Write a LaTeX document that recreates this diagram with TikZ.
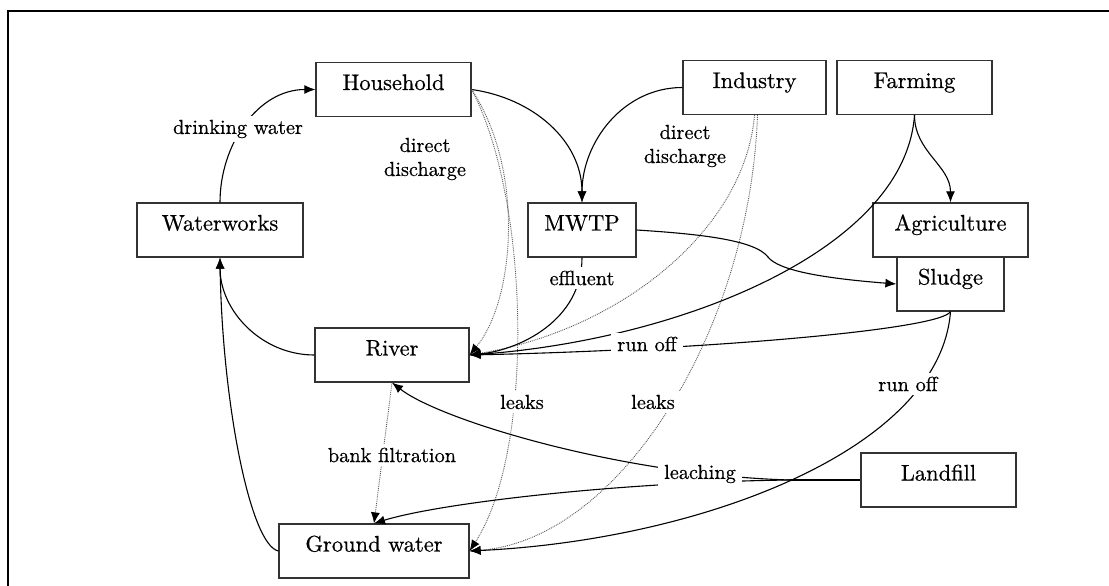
\documentclass[tikz,border=0pt]{standalone}
\usepackage{fontspec}
\setmainfont{lmroman10-regular.otf}[FakeBold=0.6]
\usetikzlibrary{arrows.meta}
\begin{document}
\begin{tikzpicture}[x=1pt,y=1pt,
  box/.style={draw=black!80, line width=1.2pt, minimum height=54pt, inner sep=0pt, text height=15pt, text depth=14pt, font=\fontsize{22.5}{26}\selectfont},
  lbl/.style={fill=white, inner xsep=6pt, inner ysep=4pt, font=\fontsize{20.3}{24}\selectfont},
  txt/.style={align=center, font=\fontsize{20.3}{24}\selectfont},
  arr/.style={line width=1.1pt, -{Latex[length=11pt,width=9pt]}},
  dot/.style={densely dotted, line width=0.9pt, draw=black!65, -{Latex[length=11pt,width=9pt,black]}},
]
\useasboundingbox (0,0) rectangle (1109,-586);
\fill[white] (0,0) rectangle (1109,-586);
\draw[line width=2.5pt] (8,-586) -- (8,-11) -- (1109,-11);

% boxes
\node[box, minimum width=155pt] (hh) at (393.5,-89.5) {Household};
\node[box, minimum width=166pt] (ww) at (220,-230) {Waterworks};
\node[box, minimum width=143pt] (ind) at (754.5,-87.5) {Industry};
\node[box, minimum width=155pt] (farm) at (914.5,-87.5) {Farming};
\node[box, minimum width=108pt] (mw) at (582,-230) {MWTP};
\node[box, minimum width=155pt] (ag) at (950.5,-230) {Agriculture};
\node[box, minimum width=107pt] (sl) at (950.5,-284) {Sludge};
\node[box, minimum width=154pt] (riv) at (392,-355) {River};
\node[box, minimum width=190pt] (gw) at (374,-551) {Ground water};
\node[box, minimum width=155pt] (lf) at (938.5,-480) {Landfill};
\coordinate (wig) at (768,-257);
\coordinate (lfj) at (790,-480);

% connectors
\draw[arr] (ww.north) to[out=90,in=180] (hh.west);
\draw[arr] (hh.east) to[out=-8,in=90] (mw.north);
\draw[arr] (ind.west) to[out=180,in=90] (mw.north);
\draw[dot] (hh.east) .. controls (525,-170) and (515,-300) .. (riv.east);
\draw[dot] (hh.east) .. controls (530,-200) and (535,-450) .. (gw.east);
\draw[dot] (ind.south) .. controls (745,-230) and (620,-330) .. (riv.east);
\draw[dot] ([xshift=3pt]ind.south) .. controls (750,-330) and (620,-540) .. (gw.east);
\draw[arr] (farm.south) to[out=-90,in=90] (ag.north);
\draw[arr] (farm.south) .. controls (905,-250) and (680,-340) .. (riv.east);
\draw[arr] (sl.south) .. controls (940,-330) and (700,-350) .. (riv.east);
\draw[arr] (sl.south) .. controls (940,-450) and (700,-540) .. (gw.east);
\draw[arr] (mw.south) .. controls (582,-320) and (520,-350) .. (riv.east);
\draw[arr] (mw.east) .. controls (700,-234) and (755,-240) .. (wig) .. controls (778,-270) and (820,-278) .. (sl.west);
\draw[arr] (riv.west) to[out=180,in=-90] (ww.south);
\draw[arr] (gw.west) .. controls (250,-545) and (222,-400) .. (ww.south);
\draw[dot] (riv.south) -- (gw.north);
\draw[line width=1.1pt] (lf.west) -- (lfj);
\draw[arr] (lfj) .. controls (620,-475) and (440,-420) .. (riv.south);
\draw[arr] (lfj) .. controls (620,-482) and (440,-503) .. (gw.north);

% labels
\node[lbl] (l1) at (238,-129) {drinking water};
\node[txt] (l2) at (425,-159) {direct\\discharge};
\node[txt] (l3) at (685,-146) {direct\\discharge};
\node[lbl] (l4) at (582,-278) {effluent};
\node[lbl] (l5) at (647,-344) {run off};
\node[lbl] (l6) at (908,-384) {run off};
\node[lbl] (l7) at (522,-402) {leaks};
\node[lbl] (l8) at (653,-402) {leaks};
\node[lbl] (l9) at (392,-455) {bank filtration};
\node[lbl] (l10) at (700,-474) {leaching};
\end{tikzpicture}
\end{document}
